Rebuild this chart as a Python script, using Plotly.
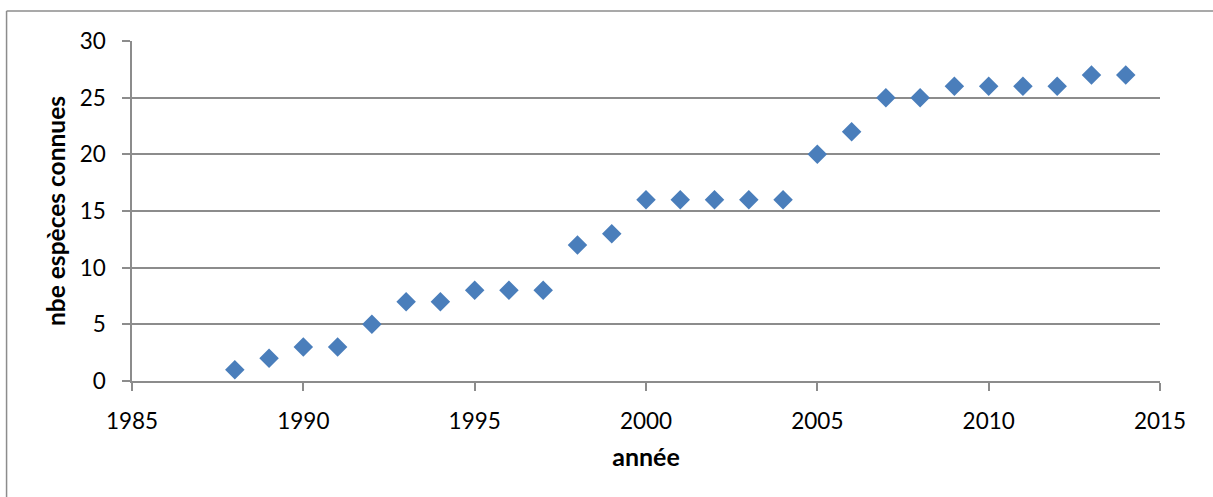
import plotly.graph_objects as go

years = [1988, 1989, 1990, 1991, 1992, 1993, 1994, 1995, 1996, 1997, 1998, 1999,
         2000, 2001, 2002, 2003, 2004, 2005, 2006, 2007, 2008, 2009, 2010, 2011,
         2012, 2013, 2014]
especes = [1, 2, 3, 3, 5, 7, 7, 8, 8, 8, 12, 13,
           16, 16, 16, 16, 16, 20, 22, 25, 25, 26, 26, 26,
           26, 27, 27]
x_title = "année"
y_title = "nbe espèces connues"

W, H = 1213, 497
L, R, T, B = 131.5, 53, 41, 116
pw, ph = W - L - R, H - T - B

fig = go.Figure()
fig.add_trace(go.Scatter(
    x=years, y=especes, mode="markers",
    marker=dict(symbol="diamond", size=15, color="#4A7EBB", line=dict(width=0)),
    showlegend=False, cliponaxis=False,
))

font_family = "Lato, Carlito, 'Open Sans', sans-serif"
fig.update_layout(
    width=W, height=H,
    margin=dict(l=L, r=R, t=T, b=B, pad=0),
    paper_bgcolor="white", plot_bgcolor="white",
    font=dict(family=font_family, size=22.5, color="black"),
    xaxis=dict(
        range=[1985, 2015], tickvals=[1985, 1990, 1995, 2000, 2005, 2010, 2015],
        showgrid=False, zeroline=False, showline=True, linecolor="#8C8C8C", linewidth=1.5,
        ticks="outside", ticklen=8, tickcolor="#8C8C8C", tickwidth=1.5,
        ticklabelstandoff=11,
        title=dict(text="<b>" + x_title + "</b>", font=dict(size=25), standoff=16),
        fixedrange=True,
    ),
    yaxis=dict(
        range=[0, 30], tickvals=[0, 5, 10, 15, 20, 25, 30],
        showgrid=True, gridcolor="#8C8C8C", gridwidth=1.5,
        zeroline=False, showline=True, linecolor="#8C8C8C", linewidth=1.5,
        ticks="outside", ticklen=8, tickcolor="#8C8C8C", tickwidth=1.5,
        ticklabelstandoff=12,
        title=dict(text="<b>" + y_title + "</b>", font=dict(size=24.5), standoff=7),
        fixedrange=True,
    ),
    shapes=[
        dict(type="line", xref="paper", yref="paper",
             x0=(6 - L) / pw, x1=(W + 5 - L) / pw,
             y0=(H - B - 11) / ph, y1=(H - B - 11) / ph,
             line=dict(color="#8C8C8C", width=1.5)),
        dict(type="line", xref="paper", yref="paper",
             x0=(6 - L) / pw, x1=(6 - L) / pw,
             y0=(H - B - 11) / ph, y1=(-B - 5) / ph,
             line=dict(color="#8C8C8C", width=1.5)),
    ],
)

fig.write_html("out.html")
